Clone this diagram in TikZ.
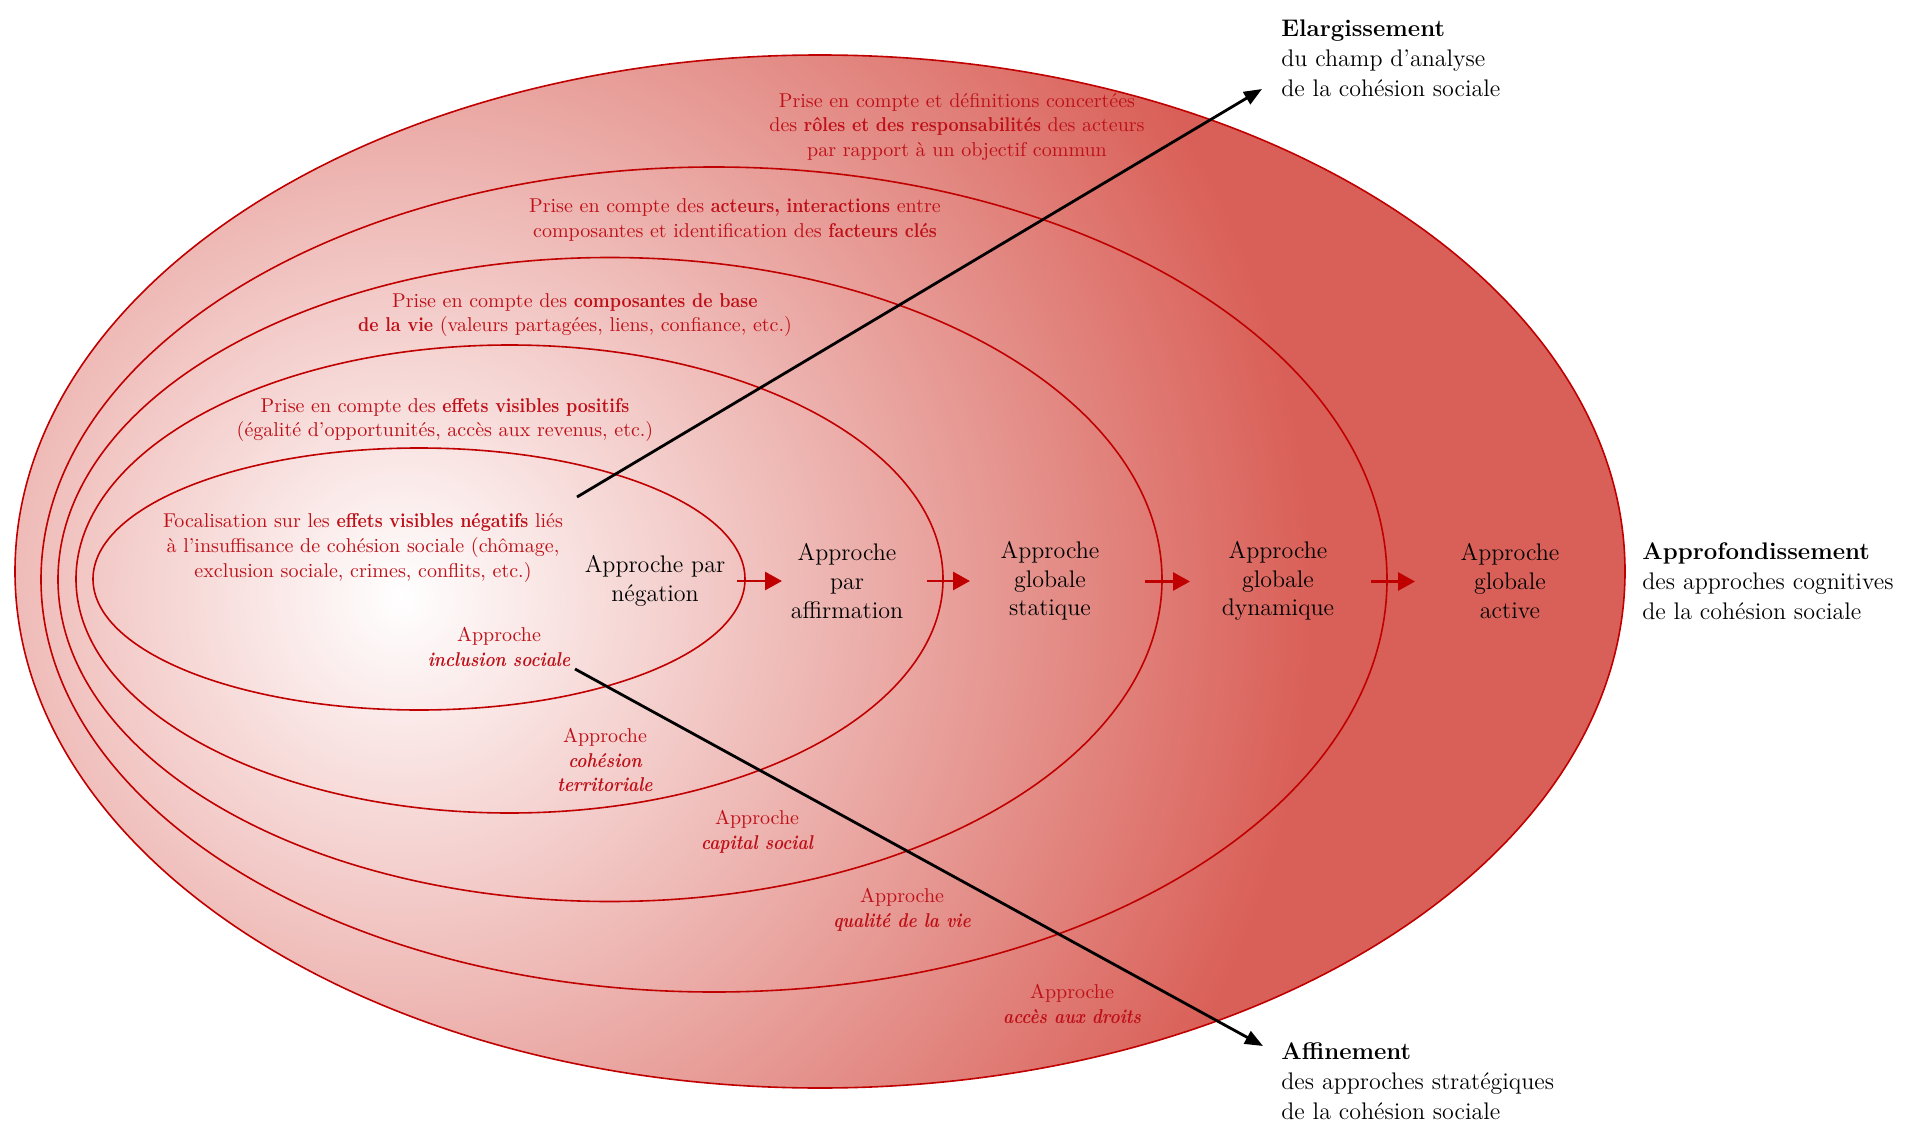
\documentclass[tikz,border=0pt]{standalone}
\usepackage{fontspec}
\usepackage{graphicx}
\usetikzlibrary{arrows.meta,shapes.geometric,calc}

\definecolor{ringred}{RGB}{192,0,0}
\definecolor{labelred}{RGB}{190,16,24}
\definecolor{deepred}{RGB}{217,96,88}

% slightly condensed bold for the red captions
\newcommand{\hl}[1]{\scalebox{0.88}[1]{\bfseries #1}}
\newcommand{\hli}[1]{\scalebox{0.86}[1]{\bfseries\itshape #1}}

\tikzset{
  ring/.style={ellipse, draw=ringred, line width=0.8pt, inner sep=0pt, outer sep=0pt},
  redlabel/.style={text=labelred, align=center, inner sep=0pt,
    font=\fontsize{10}{12.3}\selectfont},
  stage/.style={align=center, inner sep=0pt, font=\fontsize{12}{14.3}\selectfont},
  axislabel/.style={align=left, anchor=west, inner sep=0pt,
    font=\fontsize{12}{15}\selectfont},
  flow/.style={draw=ringred, line width=1.4pt,
    -{Triangle[length=8.5pt,width=9pt]}},
  axis/.style={draw=black, line width=1.4pt,
    -{Triangle[length=9pt,width=7pt]}},
}

\begin{document}
\begin{tikzpicture}[x=0.5pt,y=-0.5pt]
\useasboundingbox (0,0) rectangle (1910,1123);

% radial colour wash inside the outermost ring
\begin{scope}
  \clip (820,571.5) ellipse [x radius=402.5pt, y radius=258.25pt];
  \fill[deepred] (0,0) rectangle (1910,1123);
  \shade[inner color=white, outer color=deepred] (402,597) circle [radius=455pt];
\end{scope}

% nested rings
\node[ring, minimum width=326pt,   minimum height=131pt]   (e1) at (419,579) {};
\node[ring, minimum width=433.5pt, minimum height=234pt]   (e2) at (509.5,579) {};
\node[ring, minimum width=552pt,   minimum height=322pt]   (e3) at (610,579.5) {};
\node[ring, minimum width=673pt,   minimum height=412.5pt] (e4) at (714,579.5) {};
\node[ring, minimum width=805pt,   minimum height=516.5pt] (e5) at (820,571.5) {};

% captions of each ring
\node[redlabel] (t1) at (957,127) {Prise en compte et définitions concertées\\
  des \hl{rôles et des responsabilités} des acteurs\\
  par rapport à un objectif commun};
\node[redlabel] (t2) at (735,220) {Prise en compte des \hl{acteurs, interactions} entre\\
  composantes et identification des \hl{facteurs clés}};
\node[redlabel] (t3) at (575,315) {Prise en compte des \hl{composantes de base}\\
  \hl{de la vie} (valeurs partagées, liens, confiance, etc.)};
\node[redlabel] (t4) at (445,420) {Prise en compte des \hl{effets visibles positifs}\\
  (égalité d’opportunités, accès aux revenus, etc.)};
\node[redlabel] (t5) at (363,548) {Focalisation sur les \hl{effets visibles négatifs} liés\\
  à l’insuffisance de cohésion sociale (chômage,\\
  exclusion sociale, crimes, conflits, etc.)};

\node[redlabel] (t6)  at (499,647)  {Approche\\\hli{inclusion sociale}};
\node[redlabel] (t7)  at (605,760)  {Approche\\\hli{cohésion}\\\hli{territoriale}};
\node[redlabel] (t8)  at (757,832)  {Approche\\\hli{capital social}};
\node[redlabel] (t9)  at (902,910)  {Approche\\\hli{qualité de la vie}};
\node[redlabel] (t10) at (1072,1004){Approche\\\hli{accès aux droits}};

% the five approaches
\node[stage] (neg)  at (655,581)  {Approche par\\négation};
\node[stage] (aff)  at (847,581)  {Approche\\par\\affirmation};
\node[stage] (stat) at (1050,581) {Approche\\globale\\statique};
\node[stage] (dyn)  at (1278,581) {Approche\\globale\\dynamique};
\node[stage] (act)  at (1510,581) {Approche\\globale\\active};

% progression arrows across the ring borders
\draw[flow] ([xshift=-4pt,yshift=-1pt]e1.east) -- ([xshift=18.5pt,yshift=-1pt]e1.east);
\draw[flow] ([xshift=-8pt,yshift=-1pt]e2.east) -- ([xshift=13.5pt,yshift=-1pt]e2.east);
\draw[flow] ([xshift=-8.5pt,yshift=-1pt]e3.east) -- ([xshift=14pt,yshift=-1pt]e3.east);
\draw[flow] ([xshift=-8pt,yshift=-1pt]e4.east) -- ([xshift=14pt,yshift=-1pt]e4.east);

% axis labels
\node[axislabel] (elarg) at (1281,58)   {\textbf{Elargissement}\\du champ d’analyse\\de la cohésion sociale};
\node[axislabel] (appro) at (1642,581)  {\textbf{Approfondissement}\\des approches cognitives\\de la cohésion sociale};
\node[axislabel] (affin) at (1281,1081) {\textbf{Affinement}\\des approches stratégiques\\de la cohésion sociale};

% diagonal axes
\coordinate (wide0) at (577,497);
\coordinate (fine0) at (575,669);
\draw[axis] (wide0) -- ([xshift=-9.5pt,yshift=-15.5pt]elarg.west);
\draw[axis] (fine0) -- ([xshift=-9pt,yshift=17.5pt]affin.west);
\end{tikzpicture}
\end{document}
